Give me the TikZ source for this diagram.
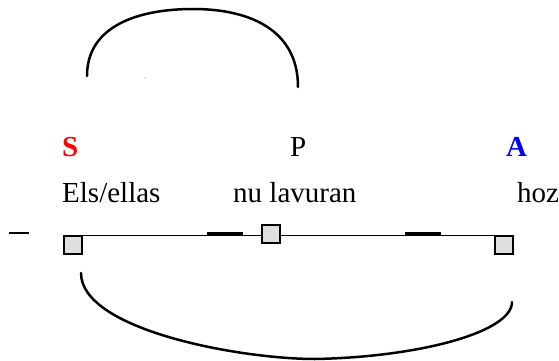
\documentclass[tikz,border=0pt]{standalone}
\usepackage{fontspec}
\newfontfamily\tms{Liberation Serif}
\begin{document}
\begin{tikzpicture}[x=1pt,y=-1pt,
  box/.style={draw=black,fill=black!13,line width=2pt,minimum size=18pt,inner sep=0pt,outer sep=0pt},
  lbl/.style={anchor=base west,inner sep=0pt,font=\tms\fontsize{29}{34}\selectfont},
  arcline/.style={line width=2.5pt,line cap=round},
  thick seg/.style={line width=3pt}]
\useasboundingbox (0,0) rectangle (559,361);
% labels
\node[lbl,text=red,font=\tms\fontsize{29}{34}\selectfont\bfseries] (S) at (62,156) {S};
\node[lbl] (P) at (290,156) {P};
\node[lbl,text=blue,font=\tms\fontsize{29}{34}\selectfont\bfseries] (A) at (506,156) {A};
\node[lbl] (w1) at (62,202) {Els/ellas};
\node[lbl] (w2) at (233,202) {nu lavuran};
\node[lbl] (w3) at (517,202) {hoz};
% boxes
\node[box] (b1) at (72.5,244.5) {};
\node[box] (b3) at (504,244.5) {};
\draw[line width=1.8pt] (b1.north east) -- (b3.north west);
\node[box] (b2) at (270.5,233.5) {};
\coordinate (t1) at (207,233.5); \coordinate (t2) at (243,233.5);
\coordinate (t3) at (405,233.5); \coordinate (t4) at (441,233.5);
\draw[thick seg] (t1) -- (t2);
\draw[thick seg] (t3) -- (t4);
% left dash
\coordinate (d1) at (9,233); \coordinate (d2) at (29,233);
\draw[line width=2pt] (d1) -- (d2);
% top arc
\coordinate (a1) at (87,76); \coordinate (a2) at (298,87);
\draw[arcline] (a1) .. controls (87,25) and (140,9) .. (193,9) .. controls (250,9) and (298,30) .. (a2);
% bottom arc
\coordinate (c1) at (81,273); \coordinate (c2) at (512,302);
\draw[arcline] (c1) .. controls (81,330) and (240,359) .. (315,359) .. controls (420,357) and (512,332) .. (c2);
% tiny dot
\fill[black!40] (145,78) circle (0.6pt);
\end{tikzpicture}
\end{document}
